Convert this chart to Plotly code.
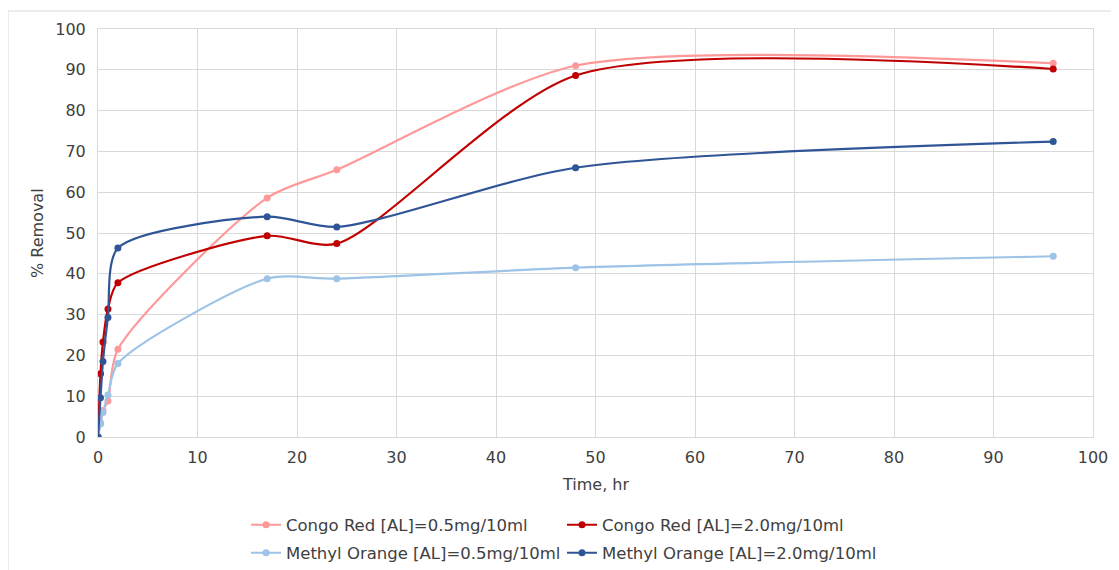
import plotly.graph_objects as go

# Data
time_hr = [0, 0.25, 0.5, 1, 2, 17, 24, 48, 96]
congo_red_05 = [0, 3.5, 6.5, 8.8, 21.5, 58.6, 65.5, 91.0, 91.6]
congo_red_20 = [0, 15.5, 23.3, 31.4, 37.8, 49.3, 47.4, 88.6, 90.2]
methyl_orange_05 = [0, 3.2, 6.0, 10.3, 18.0, 38.8, 38.8, 41.5, 44.3]
methyl_orange_20 = [0, 9.6, 18.5, 29.3, 46.3, 54.0, 51.5, 66.0, 72.4]

series_names = [
    "Congo Red [AL]=0.5mg/10ml",
    "Congo Red [AL]=2.0mg/10ml",
    "Methyl Orange [AL]=0.5mg/10ml",
    "Methyl Orange [AL]=2.0mg/10ml",
]
series_values = [congo_red_05, congo_red_20, methyl_orange_05, methyl_orange_20]
series_colors = ["#FF9999", "#C00000", "#9DC3E6", "#2F5597"]
legend_ids = ["legend", "legend2", "legend3", "legend4"]

FONT = "DejaVu Sans"
TXT = "#404040"
GRID = "#D9D9D9"

OFF = 8  # page body margin
W, H = 1119 - OFF, 570 - OFF
L, R, T, B = 98 - OFF, 26, 29 - OFF, 133
PW, PH = W - L - R, H - T - B

def px_x(px):
    # page pixel -> paper x
    return (px - OFF - L) / PW

def px_y(py):
    # page pixel -> paper y
    return (H - B - (py - OFF)) / PH

fig = go.Figure()
for name, vals, col, lg in zip(series_names, series_values, series_colors, legend_ids):
    fig.add_trace(go.Scatter(
        x=time_hr, y=vals, name=name, mode="lines+markers",
        line=dict(color=col, width=2.2, shape="spline", smoothing=0.75),
        marker=dict(color=col, size=7),
        legend=lg,
    ))

legend_pos = {
    "legend": (246, 525),
    "legend2": (562, 525),
    "legend3": (246, 553),
    "legend4": (562, 553),
}
legend_layout = {}
for lg, (lx, ly) in legend_pos.items():
    legend_layout[lg] = dict(
        x=px_x(lx), y=px_y(ly), xanchor="left", yanchor="middle",
        orientation="h", bgcolor="rgba(0,0,0,0)",
        font=dict(family=FONT, size=16.5, color=TXT),
        itemwidth=30,
    )

fig.update_layout(
    width=W, height=H,
    margin=dict(l=L, r=R, t=T, b=B, autoexpand=False),
    paper_bgcolor="white", plot_bgcolor="white",
    showlegend=True,
    font=dict(family=FONT, size=16, color=TXT),
    xaxis=dict(
        range=[0, 100], dtick=10, tick0=0,
        showgrid=True, gridcolor=GRID, gridwidth=1,
        showline=True, linecolor=GRID, linewidth=1, mirror=True,
        zeroline=False, ticks="", ticklabelstandoff=6,
        tickfont=dict(family=FONT, size=16, color=TXT),
    ),
    yaxis=dict(
        range=[0, 100], dtick=10, tick0=0,
        showgrid=True, gridcolor=GRID, gridwidth=1,
        showline=True, linecolor=GRID, linewidth=1, mirror=True,
        zeroline=False, ticks="", ticklabelstandoff=8,
        tickfont=dict(family=FONT, size=16, color=TXT),
    ),
    shapes=[dict(
        type="rect", xref="paper", yref="paper",
        x0=px_x(8), x1=px_x(1140), y0=px_y(600), y1=px_y(11),
        line=dict(color=GRID, width=1), fillcolor="rgba(0,0,0,0)", layer="below",
    )],
    annotations=[
        dict(text="Time, hr", xref="paper", yref="paper", x=0.5, y=px_y(484),
             xanchor="center", yanchor="middle", showarrow=False,
             font=dict(family=FONT, size=16, color=TXT)),
        dict(text="% Removal", xref="paper", yref="paper", x=px_x(37), y=0.5,
             xanchor="center", yanchor="middle", showarrow=False, textangle=-90,
             font=dict(family=FONT, size=16, color=TXT)),
    ],
    **legend_layout,
)

fig.write_html("out.html")
